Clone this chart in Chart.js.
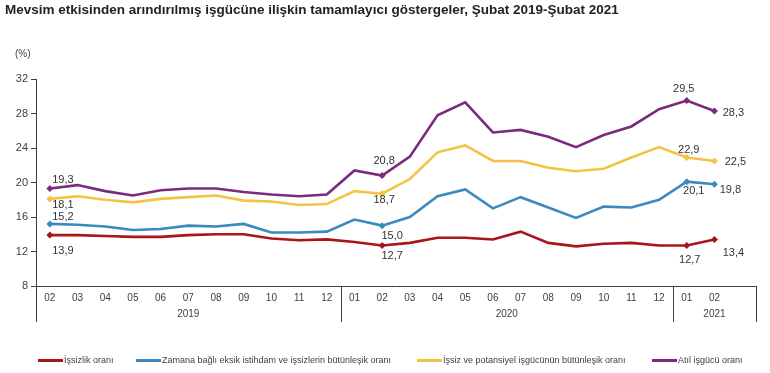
<!DOCTYPE html>
<html lang="tr">
<head>
<meta charset="utf-8">
<title>Tamamlayıcı göstergeler</title>
<script src="https://cdn.jsdelivr.net/npm/chart.js"></script>
<style>
  body { margin: 0; background: #fff; }
  #wrap { position: relative; width: 770px; height: 373px; font-family: "Liberation Sans", Arial, sans-serif; }
  #chart { position: absolute; left: 0; top: 0; }
  .title { position: absolute; left: 5px; top: 2px; font-size: 13.5px; font-weight: bold; color: #222; white-space: nowrap; }
  .unit { position: absolute; left: 15px; top: 48px; font-size: 10px; color: #404040; }
  .legend { position: absolute; top: 355px; font-size: 9px; color: #404040; white-space: nowrap; }
  .legend i { display: inline-block; width: 25px; height: 3px; vertical-align: middle; margin-right: 1px; }
</style>
</head>
<body>
<div id="wrap">
  <canvas id="chart" width="770" height="373"></canvas>
  <div class="title">Mevsim etkisinden arındırılmış işgücüne ilişkin tamamlayıcı göstergeler, Şubat 2019-Şubat 2021</div>
  <div class="unit">(%)</div>
  <div id="legend"></div>
</div>
<script>
// Data (last slot is an empty category, as in the original axis)
const months = ['02','03','04','05','06','07','08','09','10','11','12',
                '01','02','03','04','05','06','07','08','09','10','11','12',
                '01','02',''];
const years = ['2019', '2020', '2021'];

const unemployment = [13.9, 13.9, 13.8, 13.7, 13.7, 13.9, 14.0, 14.0, 13.5, 13.3, 13.4,
                      13.1, 12.7, 13.0, 13.6, 13.6, 13.4, 14.3, 13.0, 12.6, 12.9, 13.0, 12.7,
                      12.7, 13.4, null];
const timeRelated = [15.2, 15.1, 14.9, 14.5, 14.6, 15.0, 14.9, 15.2, 14.2, 14.2, 14.3,
                     15.7, 15.0, 16.0, 18.4, 19.2, 17.0, 18.3, 17.1, 15.9, 17.2, 17.1, 18.0,
                     20.1, 19.8, null];
const potential = [18.1, 18.4, 18.0, 17.7, 18.1, 18.3, 18.5, 17.9, 17.8, 17.4, 17.5,
                   19.0, 18.7, 20.4, 23.5, 24.3, 22.5, 22.5, 21.7, 21.3, 21.6, 22.9, 24.1,
                   22.9, 22.5, null];
const slack = [19.3, 19.7, 19.0, 18.5, 19.1, 19.3, 19.3, 18.9, 18.6, 18.4, 18.6,
               21.4, 20.8, 23.0, 27.8, 29.3, 25.8, 26.1, 25.3, 24.1, 25.5, 26.5, 28.5,
               29.5, 28.3, null];

const seriesNames = ['İşsizlik oranı',
                     'Zamana bağlı eksik istihdam ve işsizlerin bütünleşik oranı',
                     'İşsiz ve potansiyel işgücünün bütünleşik oranı',
                     'Atıl işgücü oranı'];
const labelIdx = [0, 12, 23, 24];

// styling
const colors = ['#a8151b', '#3a89bf', '#f3c443', '#7c2a7f'];
const labelOffsets = [
  [[13, 16], [10, 11], [3, 15], [19, 14]],
  [[13, -7], [10, 10], [7, 9], [16, 6]],
  [[13, 6], [2, 6], [2, -8], [21, 1]],
  [[13, -9], [2, -15], [-3, -12], [19, 2]]
];
const legendX = [38, 136, 417, 652];

const allSeries = [unemployment, timeRelated, potential, slack];

const datasets = allSeries.map((vals, i) => ({
  label: seriesNames[i],
  data: vals,
  borderColor: colors[i],
  backgroundColor: colors[i],
  borderWidth: 2.6,
  tension: 0,
  pointStyle: 'rectRot',
  pointRadius: vals.map((v, k) => labelIdx.includes(k) ? 3.5 : 0),
  pointHoverRadius: 0,
  pointBorderWidth: 0
}));

const axisColor = '#404040';

const decorPlugin = {
  id: 'decor',
  afterDraw(chart) {
    const ctx = chart.ctx;
    const xs = chart.scales.x;
    const area = chart.chartArea;
    const half = (xs.getPixelForValue(1) - xs.getPixelForValue(0)) / 2;
    const seps = [area.left];
    months.forEach((m, k) => { if (m === '01') seps.push(xs.getPixelForValue(k) - half); });
    seps.push(area.right);
    ctx.save();
    ctx.strokeStyle = axisColor;
    ctx.lineWidth = 1;
    seps.forEach(x => {
      const px = Math.round(x) + 0.5;
      ctx.beginPath();
      ctx.moveTo(px, area.bottom);
      ctx.lineTo(px, area.bottom + 36);
      ctx.stroke();
    });
    ctx.fillStyle = axisColor;
    ctx.font = '10px "Liberation Sans", Arial, sans-serif';
    ctx.textAlign = 'center';
    ctx.textBaseline = 'middle';
    years.forEach((y, i) => {
      ctx.fillText(y, (seps[i] + seps[i + 1]) / 2, area.bottom + 28);
    });
    ctx.restore();
  },
  afterDatasetsDraw(chart) {
    const ctx = chart.ctx;
    ctx.save();
    ctx.fillStyle = '#333';
    ctx.font = '11px "Liberation Sans", Arial, sans-serif';
    ctx.textAlign = 'center';
    ctx.textBaseline = 'middle';
    chart.data.datasets.forEach((ds, i) => {
      const meta = chart.getDatasetMeta(i);
      labelIdx.forEach((k, j) => {
        const pt = meta.data[k];
        const off = labelOffsets[i][j];
        ctx.fillText(ds.data[k].toFixed(1).replace('.', ','), pt.x + off[0], pt.y + off[1]);
      });
    });
    ctx.restore();
  }
};

new Chart(document.getElementById('chart'), {
  type: 'line',
  data: { labels: months, datasets: datasets },
  options: {
    responsive: false,
    animation: false,
    layout: { padding: { left: 0, right: 14, top: 79, bottom: 51 } },
    plugins: { legend: { display: false }, tooltip: { enabled: false } },
    scales: {
      x: {
        offset: true,
        grid: { display: false, drawTicks: false },
        border: { display: true, color: axisColor, width: 1 },
        ticks: { color: axisColor, font: { size: 10, family: '"Liberation Sans", Arial, sans-serif' },
                 autoSkip: false, maxRotation: 0, padding: 6 },
        afterFit(s) { s.height = 36; }
      },
      y: {
        min: 8, max: 32,
        ticks: { stepSize: 4, color: axisColor, padding: 3,
                 font: { size: 11, family: '"Liberation Sans", Arial, sans-serif' } },
        grid: { drawOnChartArea: false, tickLength: 5, color: axisColor },
        border: { display: true, color: axisColor, width: 1 },
        afterFit(s) { s.width = 36; }
      }
    }
  },
  plugins: [decorPlugin]
});

// legend
const legendEl = document.getElementById('legend');
seriesNames.forEach((name, i) => {
  const d = document.createElement('div');
  d.className = 'legend';
  d.style.left = legendX[i] + 'px';
  d.innerHTML = '<i style="background:' + colors[i] + '"></i>' + name;
  legendEl.appendChild(d);
});
</script>
</body>
</html>
